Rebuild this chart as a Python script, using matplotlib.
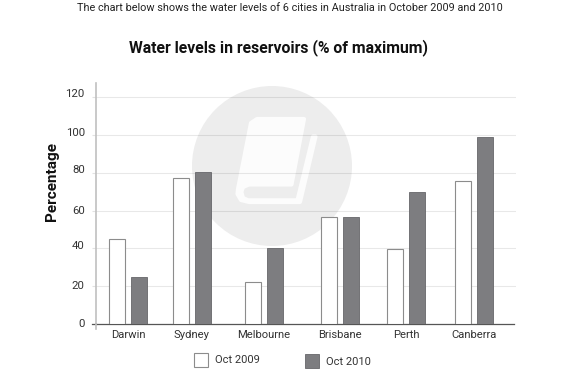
import matplotlib
matplotlib.use('Agg')
from matplotlib import pyplot as plt
from matplotlib.patches import Circle, Polygon, Rectangle
from matplotlib.transforms import ScaledTranslation

cities = ['Darwin', 'Sydney', 'Melbourne', 'Brisbane', 'Perth', 'Canberra']
oct_2009 = [45, 77, 22, 56.5, 39.5, 75.5]
oct_2010 = [25, 80.5, 40, 56.5, 70, 99]
yticks = [0, 20, 40, 60, 80, 100, 120]

# the groups are not evenly spaced in the original, x axis is in pixels here
group_x = [128, 192, 264, 340, 406, 474]
label_shift = [1, 1, 3, 1, 4, 3, 4]

plt.rcParams['font.family'] = ['Roboto', 'DejaVu Sans']

W, H = 568, 384
fig = plt.figure(figsize=(W / 100, H / 100), dpi=100)
ax = fig.add_axes([96 / W, 1 - 324 / H, (516 - 96) / W, (324 - 83) / H])

ymax = (324 - 83) / 37.8 * 20
ax.set_xlim(96, 516)
ax.set_ylim(0, ymax)

bw = 16.5
ax.bar([c - 11 for c in group_x], oct_2009, bw, color='white', edgecolor='#8c8c8c', linewidth=0.8, zorder=3)
ax.bar([c + 11 for c in group_x], oct_2010, bw, color='#7d7d80', edgecolor='#66666a', linewidth=0.6, zorder=3)

ax.set_yticks(yticks)
ax.set_yticklabels(yticks, fontsize=8.2, color='#333333')
ax.set_xticks(group_x)
ax.set_xticklabels(cities, fontsize=8.1, color='#333333')
ax.tick_params(axis='x', length=0, pad=4.5)
ax.tick_params(axis='y', length=2.9, pad=5.2, width=0.8, color='#e2e2e2')
for lab, s in zip(ax.get_yticklabels(), label_shift):
    lab.set_transform(lab.get_transform() + ScaledTranslation(0, s / 100, fig.dpi_scale_trans))
ax.grid(axis='y', color='black', alpha=0.09, linewidth=0.8, zorder=1)
ax.spines['top'].set_visible(False)
ax.spines['right'].set_visible(False)
ax.spines['left'].set_color('#c0c0c0')
ax.spines['left'].set_linewidth(1.2)
ax.spines['bottom'].set_color('#555555')
ax.spines['bottom'].set_linewidth(0.9)
ax.spines['bottom'].set_bounds(96, 514)
ax.patch.set_alpha(0)

# axis overhangs
ax.plot([92, 96], [0, 0], color='#555555', lw=0.9, clip_on=False, zorder=4)
ax.plot([96, 96], [0, -2.6], color='#c0c0c0', lw=1.2, clip_on=False, zorder=4)

# watermark behind everything
bg = fig.add_axes([0, 0, 1, 1], zorder=-1)
bg.set_xlim(0, W)
bg.set_ylim(H, 0)
bg.axis('off')
bg.add_patch(Circle((272, 166), 80, color='#ededed', lw=0))
book = [(257, 119), (304, 119), (291.5, 184.5), (249, 184.5), (243, 187), (241.3, 192), (243, 198), (248, 200.3),
        (297.5, 200.3), (313, 136.5), (315.5, 136.5), (300, 202), (249, 202), (241, 200), (237.5, 194), (238, 189), (251, 123)]
bg.add_patch(Polygon(book, closed=True, fc='#fcfcfc', ec='#fcfcfc', lw=3, joinstyle='round'))

fig.text(289.5 / W, 1 - 8 / H, 'The chart below shows the water levels of 6 cities in Australia in October 2009 and 2010',
         ha='center', va='center', fontsize=7.85, color='#222222')
fig.text(278.5 / W, 1 - 48 / H, 'Water levels in reservoirs (% of maximum)',
         ha='center', va='center', fontsize=11.3, fontweight='bold', color='#111111')
fig.text(52.5 / W, 1 - 181 / H, 'Percentage', rotation=90, ha='center', va='center',
         fontsize=11, fontweight='bold', color='#111111')

fig.add_artist(Rectangle((194 / W, 1 - 367 / H), 14 / W, 14 / H, transform=fig.transFigure,
                         fc='white', ec='#8c8c8c', lw=0.8))
fig.add_artist(Rectangle((305 / W, 1 - 368 / H), 14 / W, 14 / H, transform=fig.transFigure,
                         fc='#7d7d80', ec='#66666a', lw=0.6))
fig.text(215 / W, 1 - 360 / H, 'Oct 2009', ha='left', va='center', fontsize=8, color='#333333')
fig.text(326 / W, 1 - 362 / H, 'Oct 2010', ha='left', va='center', fontsize=8, color='#333333')

fig.savefig('out.png', dpi=100)
